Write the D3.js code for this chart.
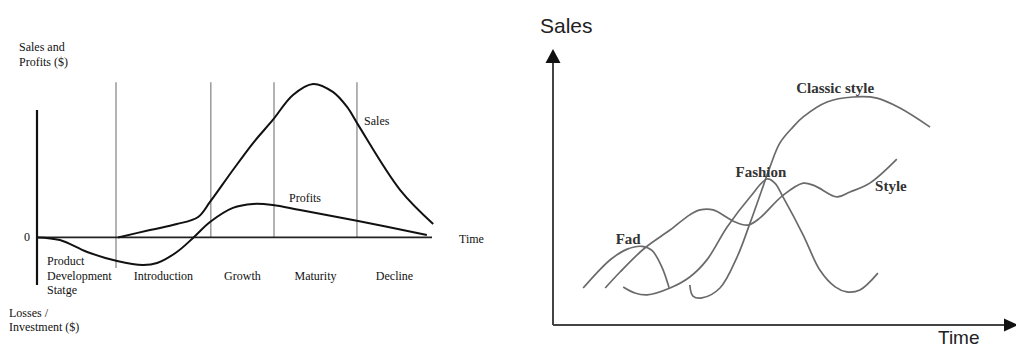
<!DOCTYPE html>
<html>
<head>
<meta charset="utf-8">
<script src="https://cdn.jsdelivr.net/npm/d3@7"></script>
<style>
  body { margin: 0; background: #fff; }
  .serif { font-family: "Liberation Serif", "DejaVu Serif", serif; }
  .sans { font-family: "Liberation Sans", Arial, sans-serif; }
</style>
</head>
<body>
<div id="chart"></div>
<script>
// Left chart: product life cycle (time 0-100, value in $ units)
var plcStageBounds = [0, 20, 44, 60, 81, 100];
var plcStageNames = [["Product", "Development", "Statge"], ["Introduction"], ["Growth"], ["Maturity"], ["Decline"]];

var plcSalesTime  = [20.5, 28.6, 35.4, 40.8, 43.8, 49.6, 54.7, 59.7, 64.8, 69.9, 74.9, 78.5, 81.3, 91.9, 100.3];
var plcSalesValue = [0, 4.8, 8.7, 13.3, 23.1, 43.9, 61.5, 76.5, 92.8, 100, 94.8, 85, 73.3, 31, 8.8];

var plcProfitTime  = [0, 5.8, 12.7, 20.3, 26.8, 30.4, 35.4, 39.5, 43.8, 49.6, 54.7, 59.7, 66.6, 81.3, 98.7];
var plcProfitValue = [0, -1.7, -9.5, -15.4, -18, -16.7, -9.5, -0.4, 10, 19.2, 21.8, 21.1, 17.8, 10.7, 1.6];

// curve labels (time, value)
var plcLabelText  = ["Sales", "Profits"];
var plcLabelTime  = [82.8, 63.8];
var plcLabelValue = [73.2, 23.1];

// Right chart: style / fashion / fad (time 0-100, sales 0-100)
var fadTime  = [6.7, 9.8, 13, 16.5, 19.8, 22, 24.2, 25.8];
var fadSales = [13.4, 19, 24, 27.5, 28.5, 27, 21, 13.5];

var styleTime  = [11.6, 14.9, 20.4, 26, 30.4, 32.7, 35.6, 40, 43.3, 46, 50.9, 55.6, 58.2, 63.1, 66, 70.4, 76.4];
var styleSales = [13.4, 19.2, 27.9, 34.4, 39.9, 41.7, 41.7, 37.7, 36.2, 38.8, 46.7, 51.4, 50.4, 46.4, 48.2, 51.4, 60.1];

var fashionTime  = [15.6, 18.2, 20.9, 26, 30.4, 34.2, 38.7, 43.8, 47.6, 49.3, 51.1, 55.6, 59.3, 62.7, 65.3, 68.2, 72.2];
var fashionSales = [13.8, 11.6, 10.9, 13.4, 17.4, 23.6, 35.5, 46.4, 52.9, 51.4, 46.4, 32.6, 19.9, 13.8, 12, 12.7, 18.8];

var classicTime  = [30.4, 31.1, 33.1, 37.1, 40.9, 43.8, 46.4, 48.2, 50.4, 53.3, 55.6, 60.9, 66.7, 72, 77.1, 83.8];
var classicSales = [14.5, 10.5, 9.8, 13.4, 24.6, 37, 48.9, 57.2, 65.9, 71.7, 75.4, 80.8, 82.6, 82.2, 78.6, 71.7];

var sfLabelText  = ["Fad", "Fashion", "Classic style", "Style"];
var sfLabelTime  = [16.7, 46.2, 62.7, 75.1];
var sfLabelSales = [29.3, 53.6, 84.1, 48.6];

function zip(xs, ys) {
    return xs.map(function (x, i) { return [x, ys[i]]; });
}

var width = 1016;
var height = 347;

var svg = d3.select("#chart")
    .append("svg")
    .attr("width", width)
    .attr("height", height);

// ---------------- left chart ----------------
var lx = d3.scaleLinear().domain([0, 100]).range([37, 432]);
var ly = d3.scaleLinear().domain([-31, 83]).range([285, 110]);

var left = svg.append("g").attr("class", "serif");

// stage dividers
left.selectAll("line.stage")
    .data(plcStageBounds.slice(1, 5))
    .enter()
    .append("line")
    .attr("class", "stage")
    .attr("x1", function (d) { return lx(d); })
    .attr("x2", function (d) { return lx(d); })
    .attr("y1", ly(101))
    .attr("y2", function (d, i) { return i === 0 ? ly(-20) : ly(0); })
    .attr("stroke", "#9a9a9a")
    .attr("stroke-width", 1.5);

// axes
left.append("line")
    .attr("x1", lx(0)).attr("x2", lx(0))
    .attr("y1", ly(83)).attr("y2", ly(-31))
    .attr("stroke", "#111").attr("stroke-width", 2.2);

left.append("line")
    .attr("x1", lx(0)).attr("x2", lx(100))
    .attr("y1", ly(0)).attr("y2", ly(0))
    .attr("stroke", "#222").attr("stroke-width", 1.8);

var lline = d3.line()
    .x(function (d) { return lx(d[0]); })
    .y(function (d) { return ly(d[1]); })
    .curve(d3.curveCatmullRom.alpha(0.5));

left.append("path")
    .attr("d", lline(zip(plcSalesTime, plcSalesValue)))
    .attr("fill", "none").attr("stroke", "#111").attr("stroke-width", 2);

left.append("path")
    .attr("d", lline(zip(plcProfitTime, plcProfitValue)))
    .attr("fill", "none").attr("stroke", "#111").attr("stroke-width", 2);

// texts
var ltxt = left.append("g").attr("fill", "#111").attr("font-size", 12);

ltxt.append("text").attr("x", 19).attr("y", 51).text("Sales and");
ltxt.append("text").attr("x", 19).attr("y", 66).text("Profits ($)");
ltxt.append("text").attr("x", 9).attr("y", 317).text("Losses /");
ltxt.append("text").attr("x", 9).attr("y", 331).text("Investment ($)");
ltxt.append("text").attr("x", lx(0) - 7).attr("y", ly(0) + 4)
    .attr("text-anchor", "end").text("0");
ltxt.append("text").attr("x", lx(100) + 27).attr("y", ly(0) + 6).text("Time");

ltxt.selectAll("text.curve")
    .data(plcLabelText)
    .enter()
    .append("text")
    .attr("class", "curve")
    .attr("x", function (d, i) { return lx(plcLabelTime[i]); })
    .attr("y", function (d, i) { return ly(plcLabelValue[i]); })
    .text(function (d) { return d; });

plcStageNames.forEach(function (lines, i) {
    var first = i === 0;
    var t = ltxt.append("text")
        .attr("text-anchor", first ? "start" : "middle")
        .attr("x", first ? lx(plcStageBounds[0]) + 10 : lx((plcStageBounds[i] + plcStageBounds[i + 1]) / 2));
    lines.forEach(function (s, j) {
        t.append("tspan")
            .attr("x", t.attr("x"))
            .attr("y", ly(0) + (first ? 28 + j * 14.5 : 42.5))
            .text(s);
    });
});

// ---------------- right chart ----------------
var rx = d3.scaleLinear().domain([0, 100]).range([553, 1003]);
var ry = d3.scaleLinear().domain([0, 100]).range([325, 49]);

var right = svg.append("g");

var rline = d3.line()
    .x(function (d) { return rx(d[0]); })
    .y(function (d) { return ry(d[1]); })
    .curve(d3.curveCatmullRom.alpha(0.5));

var sfSeries = [
    zip(fadTime, fadSales),
    zip(styleTime, styleSales),
    zip(fashionTime, fashionSales),
    zip(classicTime, classicSales)
];

right.selectAll("path.sf")
    .data(sfSeries)
    .enter()
    .append("path")
    .attr("class", "sf")
    .attr("d", rline)
    .attr("fill", "none")
    .attr("stroke", "#6a6a6a")
    .attr("stroke-width", 1.7);

// axes with arrows
right.append("line")
    .attr("x1", rx(0)).attr("x2", rx(0))
    .attr("y1", ry(0)).attr("y2", ry(100) + 10)
    .attr("stroke", "#444").attr("stroke-width", 2);

right.append("line")
    .attr("x1", rx(0)).attr("x2", rx(100) + 4)
    .attr("y1", ry(0)).attr("y2", ry(0))
    .attr("stroke", "#444").attr("stroke-width", 2);

right.append("path")
    .attr("d", "M" + rx(0) + "," + ry(100) + "l-7.5,14h15z")
    .attr("fill", "#111");

right.append("path")
    .attr("d", "M" + (rx(100) + 15) + "," + ry(0) + "l-14,-6.5v13z")
    .attr("fill", "#111");

right.append("text")
    .attr("class", "sans")
    .attr("x", 540).attr("y", 33)
    .attr("font-size", 21)
    .attr("fill", "#222")
    .text("Sales");

right.append("text")
    .attr("class", "sans")
    .attr("x", 938).attr("y", 344)
    .attr("font-size", 19)
    .attr("fill", "#222")
    .text("Time");

right.selectAll("text.sfl")
    .data(sfLabelText)
    .enter()
    .append("text")
    .attr("class", "sfl serif")
    .attr("x", function (d, i) { return rx(sfLabelTime[i]); })
    .attr("y", function (d, i) { return ry(sfLabelSales[i]); })
    .attr("text-anchor", "middle")
    .attr("font-size", 15)
    .attr("font-weight", "bold")
    .attr("fill", "#333")
    .text(function (d) { return d; });
</script>
</body>
</html>
